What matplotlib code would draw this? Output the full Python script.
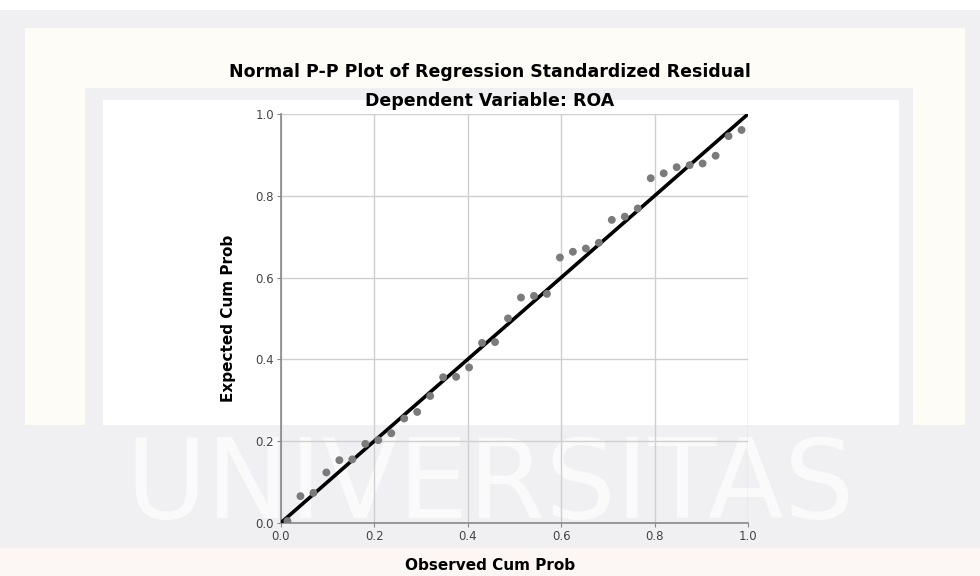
import matplotlib.pyplot as plt
from matplotlib.patches import Rectangle

# observed vs expected cumulative probability (36 residuals)
observed = [(i - 0.5) / 36 for i in range(1, 37)]
expected = [
    0.004, 0.065, 0.073, 0.123, 0.153, 0.155, 0.193, 0.202, 0.219,
    0.255, 0.271, 0.310, 0.356, 0.357, 0.380, 0.440, 0.442, 0.500,
    0.551, 0.555, 0.560, 0.649, 0.663, 0.671, 0.685, 0.741, 0.749,
    0.769, 0.843, 0.855, 0.870, 0.875, 0.879, 0.898, 0.946, 0.961,
]
ticks = [0.0, 0.2, 0.4, 0.6, 0.8, 1.0]
tick_labels = ["0.0", "0.2", "0.4", "0.6", "0.8", "1.0"]

fig = plt.figure(figsize=(9.8, 5.76), dpi=100)
fig.patch.set_facecolor("#f0f0f2")

# background panels / watermark, drawn in pixel coordinates
bg = fig.add_axes([0, 0, 1, 1], zorder=-1)
bg.set_xlim(0, 980)
bg.set_ylim(576, 0)
bg.axis("off")
panels = [
    (0, 0, 980, 10, "white"),
    (25, 28, 940, 400, "#fdfcf6"),
    (85, 88, 828, 340, "#f0f0f2"),
    (103, 100, 796, 328, "white"),
    (0, 425, 980, 123, "#f0f0f2"),
    (0, 548, 980, 28, "#fcf6f5"),
]
for x0, y0, w, h, c in panels:
    bg.add_patch(Rectangle((x0, y0), w, h, facecolor=c, edgecolor="none"))
bg.text(490, 488, "UNIVERSITAS", ha="center", va="center", fontsize=80,
        color="#fafafb")

ax = fig.add_axes([0.2867, 0.0925, 0.4766, 0.7095])
ax.set_facecolor("none")

ax.plot([0, 1], [0, 1], color="black", linewidth=2.6, zorder=3)
ax.scatter(observed, expected, s=32, color="#7b7b7b", edgecolors="none", zorder=4)

ax.set_xlim(0, 1)
ax.set_ylim(0, 1)
ax.set_xticks(ticks)
ax.set_xticklabels(tick_labels)
ax.set_yticks(ticks)
ax.set_yticklabels(tick_labels)
ax.tick_params(labelsize=8.5, colors="#444444", length=3, width=0.8,
               color="#888888", pad=2)
ax.grid(True, color="#cfcfcf", linewidth=1.0)
ax.set_axisbelow(True)
for side in ["top", "right"]:
    ax.spines[side].set_visible(False)
for side in ["left", "bottom"]:
    ax.spines[side].set_color("#888888")
    ax.spines[side].set_linewidth(1.2)

fig.text(0.5, 0.875, "Normal P-P Plot of Regression Standardized Residual",
         ha="center", va="center", fontsize=12.5, fontweight="bold")
fig.text(0.5, 0.825, "Dependent Variable: ROA",
         ha="center", va="center", fontsize=12.5, fontweight="bold")
fig.text(0.5, 0.018, "Observed Cum Prob", ha="center", va="center",
         fontsize=11, fontweight="bold")
fig.text(0.233, 0.448, "Expected Cum Prob", ha="center", va="center",
         rotation=90, fontsize=11, fontweight="bold")

fig.savefig("out.png", dpi=100)
